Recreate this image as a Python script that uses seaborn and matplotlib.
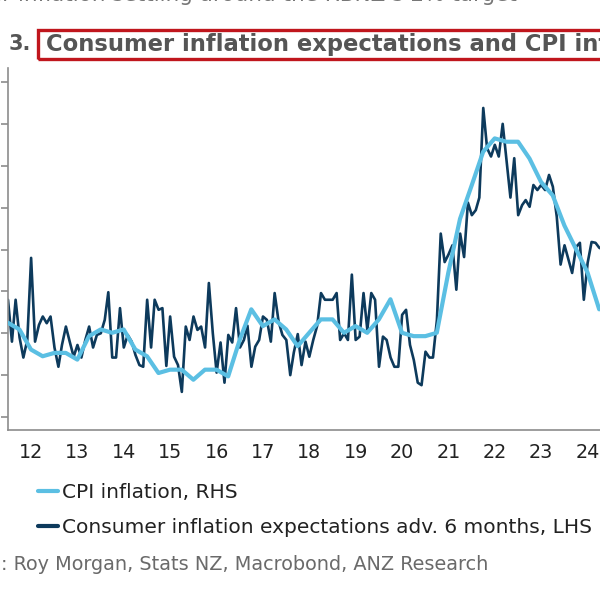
import numpy as np
import pandas as pd
import matplotlib
matplotlib.use("Agg")
import matplotlib.pyplot as plt
from matplotlib.patches import Rectangle
from matplotlib.lines import Line2D
import seaborn as sns

# ---------------- data ----------------
# CPI inflation, annual %, quarterly (quarter-end dates), RHS
cpi_start = "2011-12-31"
cpi_values = [1.8,
              1.6, 1.0, 0.8, 0.9,
              0.9, 0.7, 1.4, 1.6,
              1.5, 1.6, 1.0, 0.8,
              0.3, 0.4, 0.4, 0.1,
              0.4, 0.4, 0.2, 1.3,
              2.2, 1.7, 1.9, 1.6,
              1.1, 1.5, 1.9, 1.9,
              1.5, 1.7, 1.5, 1.9,
              2.5, 1.5, 1.4, 1.4,
              1.5, 3.3, 4.9, 5.9,
              6.9, 7.3, 7.2, 7.2,
              6.7, 6.0, 5.6, 4.7,
              4.0, 3.3, 2.2]

# Consumer inflation expectations advanced 6 months, %, monthly, LHS
exp_start = "2012-01-01"
exp_values = [4.40, 3.90, 4.40, 3.95, 3.71, 3.92, 4.90, 3.90, 4.10, 4.20, 4.12, 4.20,
              3.83, 3.60, 3.86, 4.08, 3.90, 3.72, 3.86, 3.71, 3.92, 4.08, 3.83, 3.98,
              4.00, 4.16, 4.49, 3.71, 3.71, 4.30, 3.83, 3.98, 3.90, 3.74, 3.62, 3.60,
              4.40, 3.83, 4.40, 4.28, 4.30, 3.61, 4.20, 3.72, 3.62, 3.30, 4.08, 3.92,
              4.20, 4.04, 4.08, 3.83, 4.60, 4.00, 3.53, 3.89, 3.41, 3.98, 3.89, 4.30,
              3.83, 3.92, 4.09, 3.60, 3.84, 3.92, 4.20, 4.16, 3.90, 4.48, 4.14, 3.98,
              3.92, 3.50, 3.77, 3.99, 3.62, 3.90, 3.72, 3.92, 4.09, 4.48, 4.40, 4.40,
              4.40, 4.48, 3.92, 4.00, 3.92, 4.70, 3.92, 3.96, 4.48, 4.04, 4.48, 4.40,
              3.60, 3.96, 3.92, 3.71, 3.60, 3.60, 4.22, 4.28, 3.86, 3.68, 3.41, 3.38,
              3.78, 3.71, 3.71, 4.16, 5.19, 4.85, 4.94, 5.05, 4.52, 5.19, 4.91, 5.56,
              5.41, 5.47, 5.62, 6.69, 6.21, 6.11, 6.25, 6.11, 6.50, 6.07, 5.62, 6.09,
              5.41, 5.53, 5.59, 5.51, 5.77, 5.71, 5.77, 5.71, 5.89, 5.75, 5.39, 4.82,
              5.05, 4.88, 4.72, 5.03, 5.08, 4.40, 4.84, 5.09, 5.08, 5.02, 5.00]

year_labels = ["12", "13", "14", "15", "16", "17", "18", "19", "20", "21", "22", "23", "24"]

cpi_label = "CPI inflation, RHS"
exp_label = "Consumer inflation expectations adv. 6 months, LHS"
title_text = "Consumer inflation expectations and CPI inflation"
heading_text = "Consumer inflation settling around the RBNZ\u2019s 2% target"
source_text = "Source: Roy Morgan, Stats NZ, Macrobond, ANZ Research"

cpi_df = pd.DataFrame({"date": pd.date_range(cpi_start, periods=len(cpi_values), freq="QE"),
                       "value": cpi_values})
exp_df = pd.DataFrame({"date": pd.date_range(exp_start, periods=len(exp_values), freq="MS"),
                       "value": exp_values})

# ---------------- style ----------------
sns.set_style("white")
plt.rcParams['font.family'] = ['DejaVu Sans']

NAVY = "#0d3a5c"
LIGHT = "#5bbfe3"
SPINE = "#8c8c8c"
TXT = "#222222"
GREY = "#555555"
FS_TICK = 13.8
FS_LEG = 14.5
FS_SRC = 13.9

W, H = 600, 600
fig = plt.figure(figsize=(6, 6), dpi=100)

def fx(px):
    return px / W

def fy(py):
    return 1 - py / H

ax_left, ax_right, ax_top, ax_bot = 8, 611, 68, 430
ax = fig.add_axes([fx(ax_left), fy(ax_bot), (ax_right - ax_left) / W, (ax_bot - ax_top) / H])

sns.lineplot(data=exp_df, x="date", y="value", ax=ax, color=NAVY, lw=1.9, legend=False)
ax2 = ax.twinx()
sns.lineplot(data=cpi_df, x="date", y="value", ax=ax2, color=LIGHT, lw=3.0, legend=False)

ax.set_xlim(pd.Timestamp("2012-01-01"), pd.Timestamp("2025-01-01"))
ax.set_ylim(2.845, 7.167)
ax2.set_ylim(-1.40, 9.40)
ax.set_yticks(np.arange(3.0, 7.01, 0.5))
ax.set_xlabel("")
ax.set_ylabel("")
ax2.set_xlabel("")
ax2.set_ylabel("")
ax2.set_yticks([])

for s in ["top", "right"]:
    ax.spines[s].set_visible(False)
for s in ax2.spines.values():
    s.set_visible(False)
ax.spines["left"].set_color(SPINE)
ax.spines["bottom"].set_color(SPINE)
ax.spines["left"].set_linewidth(1.2)
ax.spines["bottom"].set_linewidth(1.2)

years = pd.date_range("2012-01-01", "2025-01-01", freq="YS")
mids = [pd.Timestamp(f"20{y}-07-01") for y in year_labels]
ax.set_xticks(years)
ax.set_xticklabels([""] * len(years))
ax.set_xticks(mids, minor=True)
ax.set_xticklabels(year_labels, minor=True)
ax.tick_params(axis="x", which="major", direction="out", length=5, width=1.2, color=SPINE)
ax.tick_params(axis="x", which="minor", length=0, pad=9, labelsize=FS_TICK, labelcolor=TXT)
# left-axis tick labels lie outside the visible crop in the reference
ax.tick_params(axis="y", direction="out", length=5, width=1.2, color=SPINE,
               left=True, labelleft=False)

# ---------------- titles / frame ----------------
renderer = fig.canvas.get_renderer()

def width_px(s, **kw):
    t = fig.text(0, 0, s, **kw)
    w = t.get_window_extent(renderer).width
    t.remove()
    return w

fig.text(fx(9), fy(44), "3.", fontsize=15, fontweight="bold", color=GREY, va="center", ha="left")
fig.add_artist(Rectangle((fx(38), fy(59)), (660 - 38) / W, (59 - 30) / H, transform=fig.transFigure,
                         fill=False, edgecolor="#c0161d", lw=2.4))
fig.text(fx(46), fy(44), title_text, fontsize=16.3, fontweight="bold", color=GREY, va="center", ha="left")

pre_w = width_px("Consumer", fontsize=15.5)
fig.text(fx(11 - pre_w), fy(-5), heading_text, fontsize=15.5, color="#777777", va="center", ha="left")

# legend
handles = [Line2D([0], [0], color=LIGHT, lw=3.0), Line2D([0], [0], color=NAVY, lw=3.0)]
fig.legend(handles, [cpi_label, exp_label], loc="upper left", bbox_to_anchor=(fx(38), fy(483)),
           frameon=False, fontsize=FS_LEG, handlelength=0.98, handletextpad=0.2,
           labelspacing=0.8, borderpad=0, borderaxespad=0, labelcolor=TXT)

src_w = width_px("Source", fontsize=FS_SRC)
fig.text(fx(1 - src_w), fy(564), source_text, fontsize=FS_SRC, color="#6a6a6a", va="center", ha="left")

fig.savefig("out.png", dpi=100)
